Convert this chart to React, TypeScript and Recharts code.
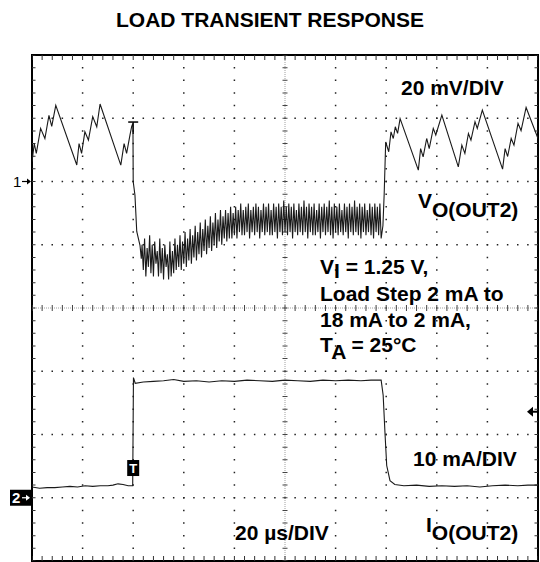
import { LineChart, Line, XAxis, YAxis, ReferenceLine, ReferenceDot, ReferenceArea } from "recharts";

// scope settings
const T_PER_DIV = 20; // µs/div
const V_PER_DIV = 20; // mV/div
const I_PER_DIV = 10; // mA/div
const CH1_REF = 6; // ch1 marker, in divisions from the bottom
const CH2_REF = 1; // ch2 marker
const TRIGGER_T = 40; // µs
const TRIGGER_LEVEL_MA = 13.6;

// VO(OUT2) before the load step: time (µs), deviation (mV)
const vPreT = [0, 0.9, 1.7, 3.4, 5.1, 6.7, 7.8, 9.4, 17.7, 18.6, 19.6, 20.9, 22.3, 24.0, 25.6, 26.9, 35.1, 36.4, 37.4, 38.7, 39.4, 39.9, 40.0, 40.7, 41.4, 42.7, 43.2];
const vPreMv = [6.3, 12.0, 8.9, 16.8, 13.6, 20.9, 17.4, 24.1, 5.2, 12.0, 8.9, 15.7, 13.1, 20.5, 17.3, 24.5, 5.2, 12.0, 8.9, 14.6, 17.4, 18.4, 0, -4.4, -15.8, -20.3, -24.4];

// ringing while the load is high, sampled every 0.5 µs from 43.5 µs
const vRingStart = 43.5;
const vRingDt = 0.5;
const vRingMv = [
  -20, -28, -18, -30, -21, -27, -17, -29, -20, -30, -19, -26, -22, -30, -18, -29, -21, -31, -20, -27,
  -23, -31, -19, -30, -22, -29, -18, -28, -20, -27, -17, -28, -19, -26, -16, -27, -18, -25, -15, -26,
  -17, -24, -14, -25, -16, -23, -13, -24, -15, -22, -12, -23, -14, -21, -11, -22, -13, -20, -10, -21,
  -12, -19, -9, -20, -11, -18, -9, -19, -10, -18, -8, -18, -10, -17,
  -8, -18, -9, -16, -7, -17, -9, -17, -8, -16, -7, -18, -9, -16, -8, -17, -7, -16, -8, -18,
  -9, -16, -7, -17, -8, -16, -7, -17, -9, -17, -7, -16, -8, -18, -7, -16, -8, -17, -6, -16,
  -8, -17, -7, -16, -8, -18, -7, -16, -9, -17, -7, -16, -8, -17, -6, -16, -8, -18, -7, -16,
  -8, -17, -7, -17, -9, -16, -7, -18, -8, -16, -7, -17, -8, -16, -6, -17, -8, -18, -7, -16,
  -8, -17, -7, -16, -9, -17, -7, -16, -8, -18, -7, -16, -8, -17, -6, -16, -8, -17, -7, -18,
  -8, -16, -7, -17, -9, -16, -7, -17, -8, -18, -7, -16, -8, -17, -7, -18,
];

// after the load returns to 2 mA
const vPostT = [138.7, 139.2, 139.8, 141.0, 141.9, 142.8, 143.6, 144.5, 145.5, 152.7, 153.6, 154.6, 156.0, 157.0, 158.6, 159.6, 162.0, 168.5, 169.9, 171.1, 172.5, 173.5, 175.1, 176.0, 178.0, 186.0, 187.0, 188.0, 189.4, 190.5, 192.1, 193.3, 195.3, 200];
const vPostMv = [-14, -4, 12.5, 9.4, 15.7, 13.6, 17.3, 15.2, 19.9, 3.6, 10.4, 7.8, 13.6, 10.4, 16.8, 14.7, 21.0, 4.6, 11.5, 8.9, 15.2, 13.1, 18.9, 16.8, 22.6, 3.9, 10.4, 7.9, 13.6, 11.5, 18.4, 16.1, 23.4, 13.6];

// IO(OUT2): time (µs), current (mA)
const iT = [0, 3, 6, 9, 12, 15, 18, 21, 24, 27, 30, 32, 34, 36, 38, 39.8, 40.1, 40.8, 44, 48, 52, 56, 60, 65, 70, 75, 80, 85, 90, 95, 100, 105, 110, 115, 120, 125, 130, 134, 138, 138.8, 139.5, 140.2, 141.5, 143.4, 147, 152, 157, 162, 167, 172, 177, 182, 187, 192, 196, 200];
const iMa = [1.7, 1.5, 1.6, 1.6, 1.7, 1.8, 1.7, 1.9, 1.8, 1.9, 1.9, 2.0, 2.2, 2.1, 1.9, 1.9, 19.0, 18.1, 18.3, 18.4, 18.5, 18.7, 18.4, 18.5, 18.3, 18.5, 18.4, 18.6, 18.5, 18.4, 18.6, 18.5, 18.4, 18.6, 18.5, 18.6, 18.5, 18.6, 18.6, 16.2, 10.4, 5.1, 2.7, 2.1, 1.9, 2.0, 1.8, 1.9, 1.8, 1.9, 1.7, 1.9, 2.0, 1.9, 2.0, 2.0];

const xGrid = [1, 2, 3, 4, 6, 7, 8, 9];
const yGrid = [1, 2, 3, 5, 6, 7];

const vPoints = [
  ...vPreT.map((t, i) => ({ t, mv: vPreMv[i] })),
  ...vRingMv.map((mv, i) => ({ t: vRingStart + i * vRingDt, mv })),
  ...vPostT.map((t, i) => ({ t, mv: vPostMv[i] })),
];
const vData = vPoints.map((p) => ({ t: p.t / T_PER_DIV, y: CH1_REF + p.mv / V_PER_DIV }));
const iData = iT.map((t, i) => ({ t: t / T_PER_DIV, y: CH2_REF + iMa[i] / I_PER_DIV }));

const FONT = "'Liberation Sans', Arial, sans-serif";
const W = 540;
const H = 562;

const TriggerCursor = ({ cx, cy }: any) => (
  <g>
    <line x1={cx - 5} x2={cx + 5} y1={cy} y2={cy} stroke="#000" strokeWidth={1.5} />
    <line x1={cx} x2={cx} y1={cy} y2={cy + 12} stroke="#000" strokeWidth={1.2} />
  </g>
);

const TriggerBox = ({ cx, cy }: any) => (
  <g>
    <rect x={cx - 6} y={cy - 8} width={12} height={16} fill="#000" />
    <text x={cx} y={cy + 5} textAnchor="middle" fill="#fff" fontFamily={FONT} fontWeight="bold" fontSize={13}>T</text>
  </g>
);

const Ch1Marker = ({ cx, cy }: any) => (
  <g>
    <text x={cx - 19} y={cy + 5.5} fill="#000" fontFamily={FONT} fontSize={15}>1</text>
    <line x1={cx - 10} x2={cx - 2} y1={cy} y2={cy} stroke="#000" strokeWidth={1.2} />
    <path d={`M${cx - 1},${cy} l-4,-3 v6 z`} fill="#000" />
  </g>
);

const Ch2Marker = ({ cx, cy }: any) => (
  <g>
    <rect x={cx - 22} y={cy - 8} width={22} height={16} fill="#000" />
    <text x={cx - 20} y={cy + 5.5} fill="#fff" fontFamily={FONT} fontWeight="bold" fontSize={15}>2</text>
    <line x1={cx - 10} x2={cx - 3} y1={cy} y2={cy} stroke="#fff" strokeWidth={1.2} />
    <path d={`M${cx - 2},${cy} l-4,-3 v6 z`} fill="#fff" />
  </g>
);

const LevelMarker = ({ cx, cy }: any) => (
  <g>
    <line x1={cx - 8} x2={cx} y1={cy} y2={cy} stroke="#000" strokeWidth={2} />
    <path d={`M${cx - 11},${cy} l6,-5 v10 z`} fill="#000" />
  </g>
);

export default function App() {
  return (
    <div style={{ position: "absolute", left: 0, top: 0, width: W, height: H, background: "#fff" }}>
      <LineChart width={W} height={H} margin={{ top: 55, right: 2, bottom: 1, left: 32 }}>
        <XAxis type="number" dataKey="t" domain={[0, 10]} hide allowDataOverflow />
        <YAxis type="number" dataKey="y" domain={[0, 8]} hide allowDataOverflow />

        {yGrid.map((y) => (
          <ReferenceLine key={`h${y}`} y={y} stroke="#222" strokeWidth={1.5} strokeDasharray="1.5 8.62" strokeDashoffset={0.75} />
        ))}
        {xGrid.map((x) => (
          <ReferenceLine key={`v${x}`} x={x} stroke="#222" strokeWidth={1.5} strokeDasharray="1.5 11.15" strokeDashoffset={0.75} />
        ))}

        {/* center crosshair with minor ticks */}
        <ReferenceLine y={4} stroke="#888" strokeWidth={0.8} strokeDasharray="1 1" />
        <ReferenceLine y={4} stroke="#444" strokeWidth={6} strokeDasharray="1 9.12" strokeDashoffset={0.5} />
        <ReferenceLine x={5} stroke="#888" strokeWidth={0.8} strokeDasharray="1 1" />
        <ReferenceLine x={5} stroke="#444" strokeWidth={5} strokeDasharray="1 11.65" strokeDashoffset={0.5} />

        {/* ticks along the frame */}
        <ReferenceLine y={8} stroke="#333" strokeWidth={10} strokeDasharray="1 9.12" strokeDashoffset={0.5} ifOverflow="hidden" />
        <ReferenceLine y={0} stroke="#333" strokeWidth={10} strokeDasharray="1 9.12" strokeDashoffset={0.5} ifOverflow="hidden" />
        <ReferenceLine x={0} stroke="#333" strokeWidth={7} strokeDasharray="1 11.65" strokeDashoffset={0.5} ifOverflow="hidden" />
        <ReferenceLine x={10} stroke="#333" strokeWidth={7} strokeDasharray="1 11.65" strokeDashoffset={0.5} ifOverflow="hidden" />

        <ReferenceArea x1={0} x2={10} y1={0} y2={8} fill="none" stroke="#000" strokeWidth={2} ifOverflow="visible" />

        <Line data={vData} dataKey="y" type="linear" stroke="#1a1a1a" strokeWidth={1.1} dot={false} isAnimationActive={false} />
        <Line data={iData} dataKey="y" type="linear" stroke="#1a1a1a" strokeWidth={1.1} dot={false} isAnimationActive={false} />

        <ReferenceDot x={TRIGGER_T / T_PER_DIV} y={CH1_REF + 18.8 / V_PER_DIV} shape={TriggerCursor} />
        <ReferenceDot x={TRIGGER_T / T_PER_DIV} y={CH2_REF + 0.47} shape={TriggerBox} />
        <ReferenceDot x={0} y={CH1_REF} shape={Ch1Marker} />
        <ReferenceDot x={0} y={CH2_REF} shape={Ch2Marker} />
        <ReferenceDot x={10} y={CH2_REF + TRIGGER_LEVEL_MA / I_PER_DIV} shape={LevelMarker} />
      </LineChart>

      <svg width={W} height={H} style={{ position: "absolute", left: 0, top: 0, pointerEvents: "none" }}>
        <g fontFamily={FONT} fontWeight="bold" fill="#000" fontSize={21}>
          <text x={270} y={27} textAnchor="middle">LOAD TRANSIENT RESPONSE</text>
          <text x={401} y={95}>20 mV/DIV</text>
          <text x={418} y={208}>V<tspan dy={8.5}>O(OUT2)</tspan></text>
          <text x={320} y={274}>V<tspan dy={4}>I</tspan><tspan dy={-4}> = 1.25 V,</tspan></text>
          <text x={320} y={301}>Load Step 2 mA to</text>
          <text x={320} y={327}>18 mA to 2 mA,</text>
          <text x={320} y={352}>T<tspan dy={7}>A</tspan><tspan dy={-7}> = 25°C</tspan></text>
          <text x={413} y={466}>10 mA/DIV</text>
          <text x={426} y={532}>I<tspan dy={8}>O(OUT2)</tspan></text>
          <text x={235} y={540}>20 µs/DIV</text>
        </g>
      </svg>
    </div>
  );
}
